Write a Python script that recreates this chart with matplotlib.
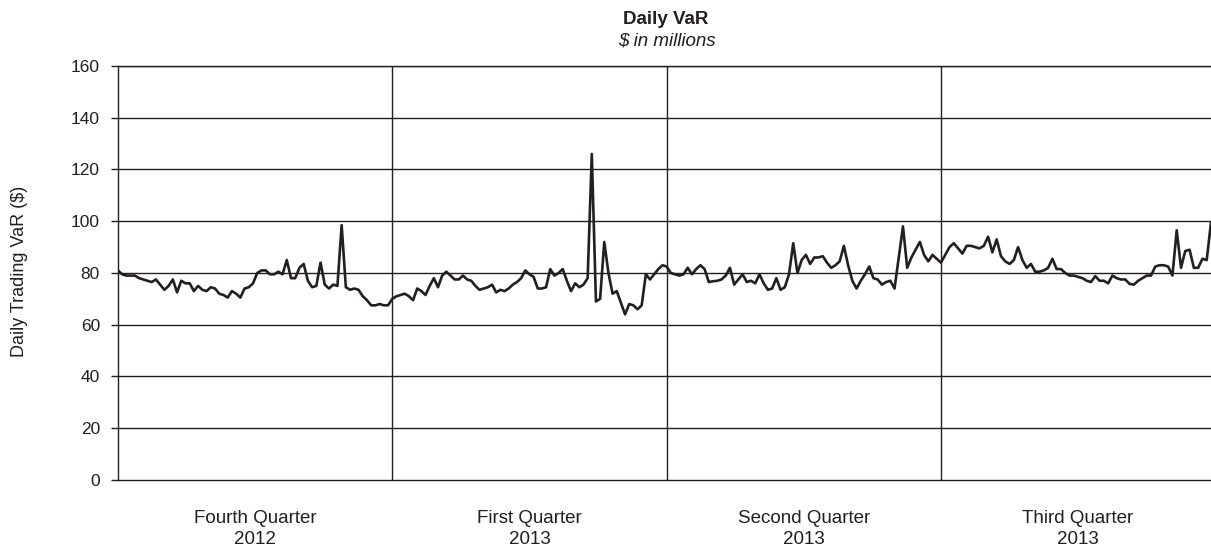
import matplotlib.pyplot as plt
import numpy as np

plt.rcParams['font.family'] = ['Liberation Sans', 'DejaVu Sans']

# daily VaR values, one list per quarter
q4_2012 = [81, 79.5, 79, 79, 79, 78, 77.5, 77, 76.5, 77.5, 75.5, 73.5, 75, 77.5, 72.5, 77,
           76, 76, 73, 75, 73.5, 73, 74.5, 74, 72, 71.5, 70.5, 73, 72, 70.5, 74, 74.5,
           76, 80, 81, 81, 79.5, 79.5, 80.5, 79.5, 85, 78, 78, 82, 83.5, 77, 74.5, 75,
           84, 75.5, 74, 75.5, 75, 98.5, 74.5, 73.5, 74, 73.5, 71, 69.5, 67.5, 67.5, 68,
           67.5, 67.5]
q1_2013 = [70, 71, 71.5, 72, 71, 69.5, 74, 73, 71.5, 75, 78, 74.5, 79, 80.5, 79, 77.5,
           77.5, 79, 77.5, 77, 75, 73.5, 74, 74.5, 75.5, 72.5, 73.5, 73, 74, 75.5, 76.5,
           78, 81, 79.5, 78.5, 74, 74, 74.5, 81.5, 79, 80, 81.5, 77, 73, 76, 74.5, 75.5,
           78, 126, 69, 70, 92, 80, 72, 73, 68.5, 64, 68, 67.5, 66, 67.5, 79.5, 77.5,
           79.5, 81.5, 83]
q2_2013 = [82.5, 80, 79.5, 79, 79.5, 82, 79.5, 81.5, 83, 81.5, 76.5, 76.8, 77, 77.5, 79,
           82, 75.5, 77.5, 79.5, 76.5, 77, 76, 79.5, 76, 73.5, 74, 78, 73.5, 74.5, 79.5,
           91.5, 80, 85, 87, 83.5, 86, 86, 86.5, 84, 82, 83, 84.5, 90.5, 83, 77, 74, 77,
           79.5, 82.5, 78, 77.5, 75.5, 76.5, 77, 74, 86, 98, 82, 86, 89, 92, 87, 84.5,
           87, 85.5]
q3_2013 = [84, 87, 90, 91.5, 89.5, 87.5, 90.5, 90.5, 90, 89.5, 90.5, 94, 88, 93, 86.5,
           84.5, 83.5, 85, 90, 85, 82, 83.5, 80.5, 80.5, 81, 82, 85.5, 81.5, 81.5, 80, 79,
           79, 78.5, 78, 77, 76.5, 78.8, 77, 77, 76, 79, 78, 77.5, 77.5, 75.8, 75.5, 77,
           78, 79, 79, 82.5, 83, 83, 82.5, 79, 96.5, 82, 88.5, 89, 82, 82, 85.5, 85, 99.5]

quarters = [q4_2012, q1_2013, q2_2013, q3_2013]
quarter_labels = ["Fourth Quarter\n2012", "First Quarter\n2013",
                  "Second Quarter\n2013", "Third Quarter\n2013"]
y_ticks = [0, 20, 40, 60, 80, 100, 120, 140, 160]

xs = []
ys = []
for q, vals in enumerate(quarters):
    n = len(vals)
    for i, v in enumerate(vals):
        xs.append(q + i / n)
        ys.append(v)

dark = "#231f20"

fig = plt.figure(figsize=(12.11, 5.49), dpi=100)
ax = fig.add_axes([0.0974, 0.1257, 0.9026, 0.7541])

for t in y_ticks[1:]:
    ax.axhline(t, color=dark, lw=1.0, zorder=1)
for q in range(1, len(quarters)):
    ax.axvline(q, color=dark, lw=1.0, zorder=1)

ax.plot(xs, ys, color=dark, lw=1.9, zorder=3)

ax.set_xlim(0, xs[-1])
ax.set_ylim(0, 160)
ax.set_yticks(y_ticks)
ax.tick_params(axis="y", direction="out", length=5, width=1, color=dark,
               labelsize=12.5, labelcolor=dark, pad=8)
ax.set_xticks([])
for s in ["left", "bottom", "top"]:
    ax.spines[s].set_color(dark)
    ax.spines[s].set_linewidth(1.0)
ax.spines["right"].set_visible(False)

for q, lab in enumerate(quarter_labels):
    ax.text(q + 0.5, -0.073, lab, transform=ax.get_xaxis_transform(),
            ha="center", va="top", fontsize=13.5, color=dark, linespacing=1.3)

fig.text(0.0165, 0.506, "Daily Trading VaR (\\$)", rotation=90, ha="center",
         va="center", fontsize=13, color=dark)
fig.text(0.55, 0.956, "Daily VaR", ha="center", va="baseline", fontsize=13.5,
         fontweight="bold", color=dark)
fig.text(0.551, 0.918, "\\$ in millions", ha="center", va="baseline", fontsize=13.5,
         style="italic", color=dark)

fig.savefig("out.png", dpi=100)
